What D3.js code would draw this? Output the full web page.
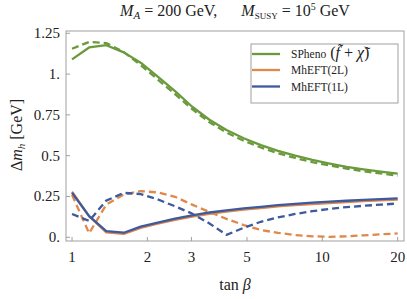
<!DOCTYPE html>
<html><head><meta charset="utf-8">
<script src="https://cdn.jsdelivr.net/npm/d3@7"></script>
<style>
html,body{margin:0;padding:0;background:#fff;}
svg{display:block;}
</style></head>
<body><svg id="chart" width="407" height="299"></svg>
<script>
// ---- data ----
const tanBeta = [1, 1.17, 1.37, 1.61, 1.88, 2.2, 2.58, 3.02, 3.54, 4.14, 4.85, 5.68, 6.65, 7.79, 9.12, 10.7, 12.5, 14.6, 17.1, 20];
const sphenoSolid = [1.09, 1.163, 1.177, 1.133, 1.07, 0.985, 0.895, 0.80, 0.72, 0.657, 0.607, 0.565, 0.53, 0.50, 0.474, 0.452, 0.432, 0.416, 0.402, 0.39];
const sphenoDashed = [1.155, 1.197, 1.19, 1.135, 1.055, 0.967, 0.877, 0.785, 0.705, 0.642, 0.592, 0.55, 0.515, 0.486, 0.461, 0.44, 0.421, 0.405, 0.391, 0.378];
const eft2LSolid = [0.28, 0.13, 0.03, 0.021, 0.057, 0.083, 0.107, 0.127, 0.144, 0.157, 0.169, 0.179, 0.189, 0.197, 0.204, 0.21, 0.216, 0.221, 0.226, 0.231];
const eft2LDashed = [0.26, 0.025, 0.2, 0.262, 0.283, 0.275, 0.248, 0.2, 0.155, 0.113, 0.075, 0.045, 0.027, 0.014, 0.006, 0.003, 0.006, 0.012, 0.018, 0.024];
const eft1LSolid = [0.273, 0.13, 0.038, 0.028, 0.065, 0.09, 0.115, 0.135, 0.152, 0.165, 0.177, 0.187, 0.197, 0.205, 0.212, 0.218, 0.224, 0.229, 0.234, 0.239];
const eft1LDashed = [0.143, 0.10, 0.225, 0.272, 0.265, 0.232, 0.19, 0.145, 0.085, 0.015, 0.058, 0.095, 0.122, 0.143, 0.16, 0.174, 0.185, 0.193, 0.2, 0.207];
const xTicks = [1, 2, 3, 5, 10, 20];
const yTicks = [0, 0.25, 0.5, 0.75, 1, 1.25];
const yTickLabels = ["0.", "0.25", "0.5", "0.75", "1.", "1.25"];
const legendLabels = ["SPheno", "MhEFT(2L)", "MhEFT(1L)"];
const colors = {green: "#6a9a3b", orange: "#e0874a", blue: "#3d5a9c"};

// ---- chart ----
const FONT = "'Liberation Serif', 'DejaVu Serif', 'Noto Serif', FreeSerif, 'Times New Roman', Times, serif";
const svg = d3.select("#chart").style("font-family", FONT);
const pL = 66, pR = 404, pT = 31, pB = 241;
const x = d3.scaleLog().domain([0.946, 21.2]).range([pL, pR]);
const y = d3.scaleLinear().domain([-0.0227, 1.264]).range([pB, pT]);
const frameColor = "#a0a0a0";

// frame
svg.append("rect").attr("x", pL).attr("y", pT).attr("width", pR - pL).attr("height", pB - pT)
  .attr("fill", "none").attr("stroke", frameColor).attr("stroke-width", 1);

// x ticks
const gx = svg.append("g");
xTicks.forEach(t => {
  gx.append("line").attr("x1", x(t)).attr("x2", x(t)).attr("y1", pB).attr("y2", pB - 4)
    .attr("stroke", frameColor);
  gx.append("text").style("font-family", FONT).attr("x", x(t)).attr("y", 262).attr("text-anchor", "middle")
    .attr("font-size", 15).attr("fill", "#222").text(t);
});
// y ticks
const gy = svg.append("g");
yTicks.forEach((t, i) => {
  gy.append("line").attr("x1", pL).attr("x2", pL + 4).attr("y1", y(t)).attr("y2", y(t))
    .attr("stroke", frameColor);
  gy.append("text").style("font-family", FONT).attr("x", 60).attr("y", y(t) + 5).attr("text-anchor", "end")
    .attr("font-size", 15).attr("fill", "#222").text(yTickLabels[i]);
});

// lines
const line = d3.line().x((d, i) => x(tanBeta[i])).y(d => y(d));
const series = [
  {v: eft2LSolid, c: colors.orange, dash: null},
  {v: eft2LDashed, c: colors.orange, dash: "7,4"},
  {v: eft1LDashed, c: colors.blue, dash: "7,4"},
  {v: eft1LSolid, c: colors.blue, dash: null},
  {v: sphenoDashed, c: colors.green, dash: "7,4"},
  {v: sphenoSolid, c: colors.green, dash: null}
];
series.forEach(s => {
  svg.append("path").attr("d", line(s.v)).attr("fill", "none").attr("stroke", s.c)
    .attr("stroke-width", 2.3).attr("stroke-dasharray", s.dash).attr("stroke-linejoin", "round");
});

// title
const title = svg.append("text").style("font-family", FONT).attr("x", 235).attr("y", 16).attr("text-anchor", "middle")
  .attr("font-size", 16).attr("fill", "#222");
title.append("tspan").attr("font-style", "italic").text("M");
title.append("tspan").attr("font-style", "italic").attr("font-size", 11).attr("dy", 3).text("A");
title.append("tspan").attr("dy", -3).text(" = 200 GeV,\u2003\u2002");
title.append("tspan").attr("font-style", "italic").text("M");
title.append("tspan").attr("font-size", 9).attr("dy", 3).text("SUSY");
title.append("tspan").attr("dy", -3).text(" = 10");
title.append("tspan").attr("font-size", 10).attr("dy", -6).text("5");
title.append("tspan").attr("dy", 6).text(" GeV");

// y label
const yl = svg.append("text").style("font-family", FONT).attr("transform", "translate(22,135) rotate(-90)")
  .attr("text-anchor", "middle").attr("font-size", 16).attr("fill", "#222");
yl.append("tspan").text("\u0394");
yl.append("tspan").attr("font-style", "italic").text("m");
yl.append("tspan").attr("font-style", "italic").attr("font-size", 11).attr("dy", 3).text("h");
yl.append("tspan").attr("dy", -3).text(" [GeV]");

// x label
const xl = svg.append("text").style("font-family", FONT).attr("x", 235).attr("y", 290).attr("text-anchor", "middle")
  .attr("font-size", 16).attr("fill", "#222");
xl.append("tspan").text("tan ");
xl.append("tspan").attr("font-style", "italic").text("\u03B2");

// legend
const lg = svg.append("g");
lg.append("rect").attr("x", 251).attr("y", 44).attr("width", 147).attr("height", 59)
  .attr("fill", "#fff").attr("stroke", frameColor).attr("stroke-width", 1);
const legColors = [colors.green, colors.orange, colors.blue];
const legY = [54, 70, 86.5];
legendLabels.forEach((lab, i) => {
  lg.append("line").attr("x1", 252).attr("x2", 280).attr("y1", legY[i]).attr("y2", legY[i])
    .attr("stroke", legColors[i]).attr("stroke-width", 2.3);
  const t = lg.append("text").style("font-family", FONT).attr("x", 291).attr("y", legY[i] + 4).attr("font-size", 11.5).attr("fill", "#222");
  t.append("tspan").text(lab);
  if (i === 0) {
    t.append("tspan").attr("font-size", 16).text(" (");
    t.append("tspan").attr("font-size", 16).attr("font-style", "italic").text("f\u0303");
    t.append("tspan").attr("font-size", 16).text(" + ");
    t.append("tspan").attr("font-size", 16).attr("font-style", "italic").text("\u03C7\u0303");
    t.append("tspan").attr("font-size", 16).text(")");
  }
});
</script></body></html>
